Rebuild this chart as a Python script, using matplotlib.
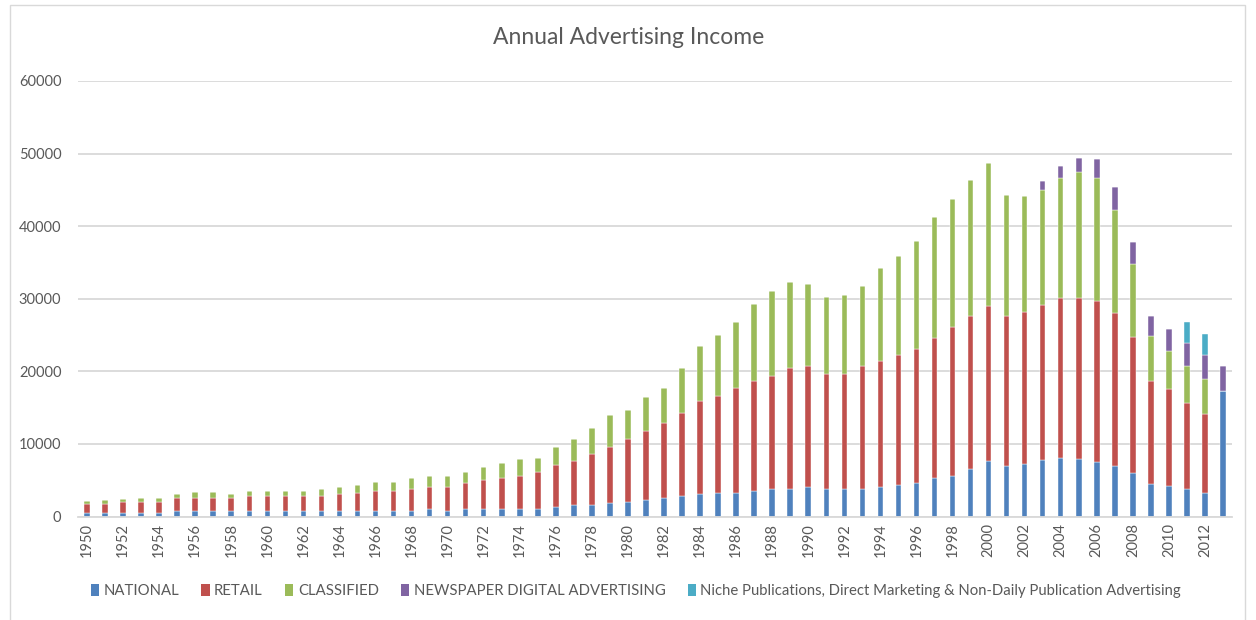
import numpy as np
import matplotlib
matplotlib.use('Agg')
from matplotlib import pyplot as plt
from matplotlib.patches import Patch, Rectangle

plt.rcParams['font.family'] = ['Lato', 'DejaVu Sans']

years = list(range(1950, 2014))

national = [520, 520, 540, 540, 540, 780, 780, 780, 780, 780,
            780, 780, 780, 780, 780, 780, 780, 780, 780, 1060,
            780, 1000, 1000, 1000, 1000, 1000, 1290, 1520, 1520, 1800,
            2030, 2290, 2560, 2790, 3070, 3300, 3300, 3570, 3800, 3800,
            4030, 3800, 3800, 3800, 4040, 4310, 4590, 5320, 5600, 6610,
            7650, 7000, 7210, 7800, 8080, 7910, 7510, 7010, 6000, 4420,
            4220, 3780, 3300, 17300]
retail = [1200, 1260, 1420, 1440, 1440, 1730, 1730, 1730, 1730, 2010,
          2010, 2010, 2010, 2020, 2290, 2520, 2750, 2750, 2980, 2980,
          3260, 3550, 4020, 4300, 4580, 5080, 5810, 6080, 7100, 7830,
          8610, 9550, 10300, 11530, 12810, 13360, 14370, 15100, 15600, 16610,
          16660, 15880, 15880, 16890, 17430, 17940, 18440, 19220, 20460, 20960,
          21410, 20680, 20990, 21340, 22010, 22190, 22120, 21020, 18770, 14220,
          13280, 11910, 10870, 0]
classified = [350, 470, 500, 600, 620, 550, 820, 820, 550, 770,
              760, 740, 750, 1010, 1010, 1060, 1290, 1290, 1560, 1560,
              1560, 1520, 1850, 2070, 2300, 2030, 2530, 3090, 3550, 4330,
              4060, 4600, 4850, 6140, 7600, 8330, 9100, 10620, 11630, 11900,
              11390, 10620, 10890, 11120, 12700, 13670, 14950, 16700, 17700, 18760,
              19610, 16620, 15900, 15800, 16610, 17310, 16990, 14190, 9980, 6180,
              5290, 5000, 4760, 0]
digital = [0] * 53 + [1220, 1540, 2030, 2660, 3170, 3110, 2740, 3040, 3250, 3370, 3420]
niche = [0] * 61 + [2900, 2800, 0]

series = [
    ('NATIONAL', national, '#4F81BD'),
    ('RETAIL', retail, '#C0504D'),
    ('CLASSIFIED', classified, '#9BBB59'),
    ('NEWSPAPER DIGITAL ADVERTISING', digital, '#8064A2'),
    ('Niche Publications, Direct Marketing & Non-Daily Publication Advertising', niche, '#4BACC6'),
]

fig = plt.figure(figsize=(12.56, 6.2), dpi=100)
ax = fig.add_axes([78 / 1256, 1 - 516.5 / 620, (1232 - 78) / 1256, (516.5 - 81) / 620])

# outer chart frame
fig.patches.append(Rectangle((10 / 1256, -0.05), 1235 / 1256, 1.05 - 5 / 620,
                             transform=fig.transFigure, fill=False,
                             edgecolor='#D9D9D9', linewidth=1))

x = np.arange(len(years))
bottom = np.zeros(len(years))
handles = []
for name, vals, col in series:
    vals = np.array(vals, dtype=float)
    ax.bar(x, vals, 0.31, bottom=bottom, color=col, edgecolor='white', linewidth=0.3)
    bottom += vals
    handles.append(Patch(facecolor=col, label=name))

ax.set_xlim(-0.5, len(years) - 0.5)
ax.set_ylim(0, 60000)
ax.set_yticks(range(0, 60001, 10000))
ax.set_xticks(x[::2])
ax.set_xticklabels([str(y) for y in years[::2]], rotation=90)
ax.tick_params(axis='both', length=0, colors='#595959', labelsize=10.5)
ax.tick_params(axis='y', pad=12)
ax.tick_params(axis='x', pad=5)
ax.yaxis.grid(True, color='#D9D9D9', linewidth=1.3)
ax.set_axisbelow(True)
for s in ['top', 'right', 'left']:
    ax.spines[s].set_visible(False)
ax.spines['bottom'].set_color('#D9D9D9')
ax.spines['bottom'].set_linewidth(1.3)

fig.text(629 / 1256, 1 - 38 / 620, 'Annual Advertising Income', ha='center', va='center',
         fontsize=16.5, color='#595959')

fig.legend(handles=handles, loc='center', bbox_to_anchor=(636 / 1256, 1 - 591 / 620),
           ncol=5, frameon=False, fontsize=10.7, handlelength=0.55, handleheight=0.8,
           handletextpad=0.3, columnspacing=1.5, labelcolor='#595959')

fig.savefig('out.png', dpi=100)
